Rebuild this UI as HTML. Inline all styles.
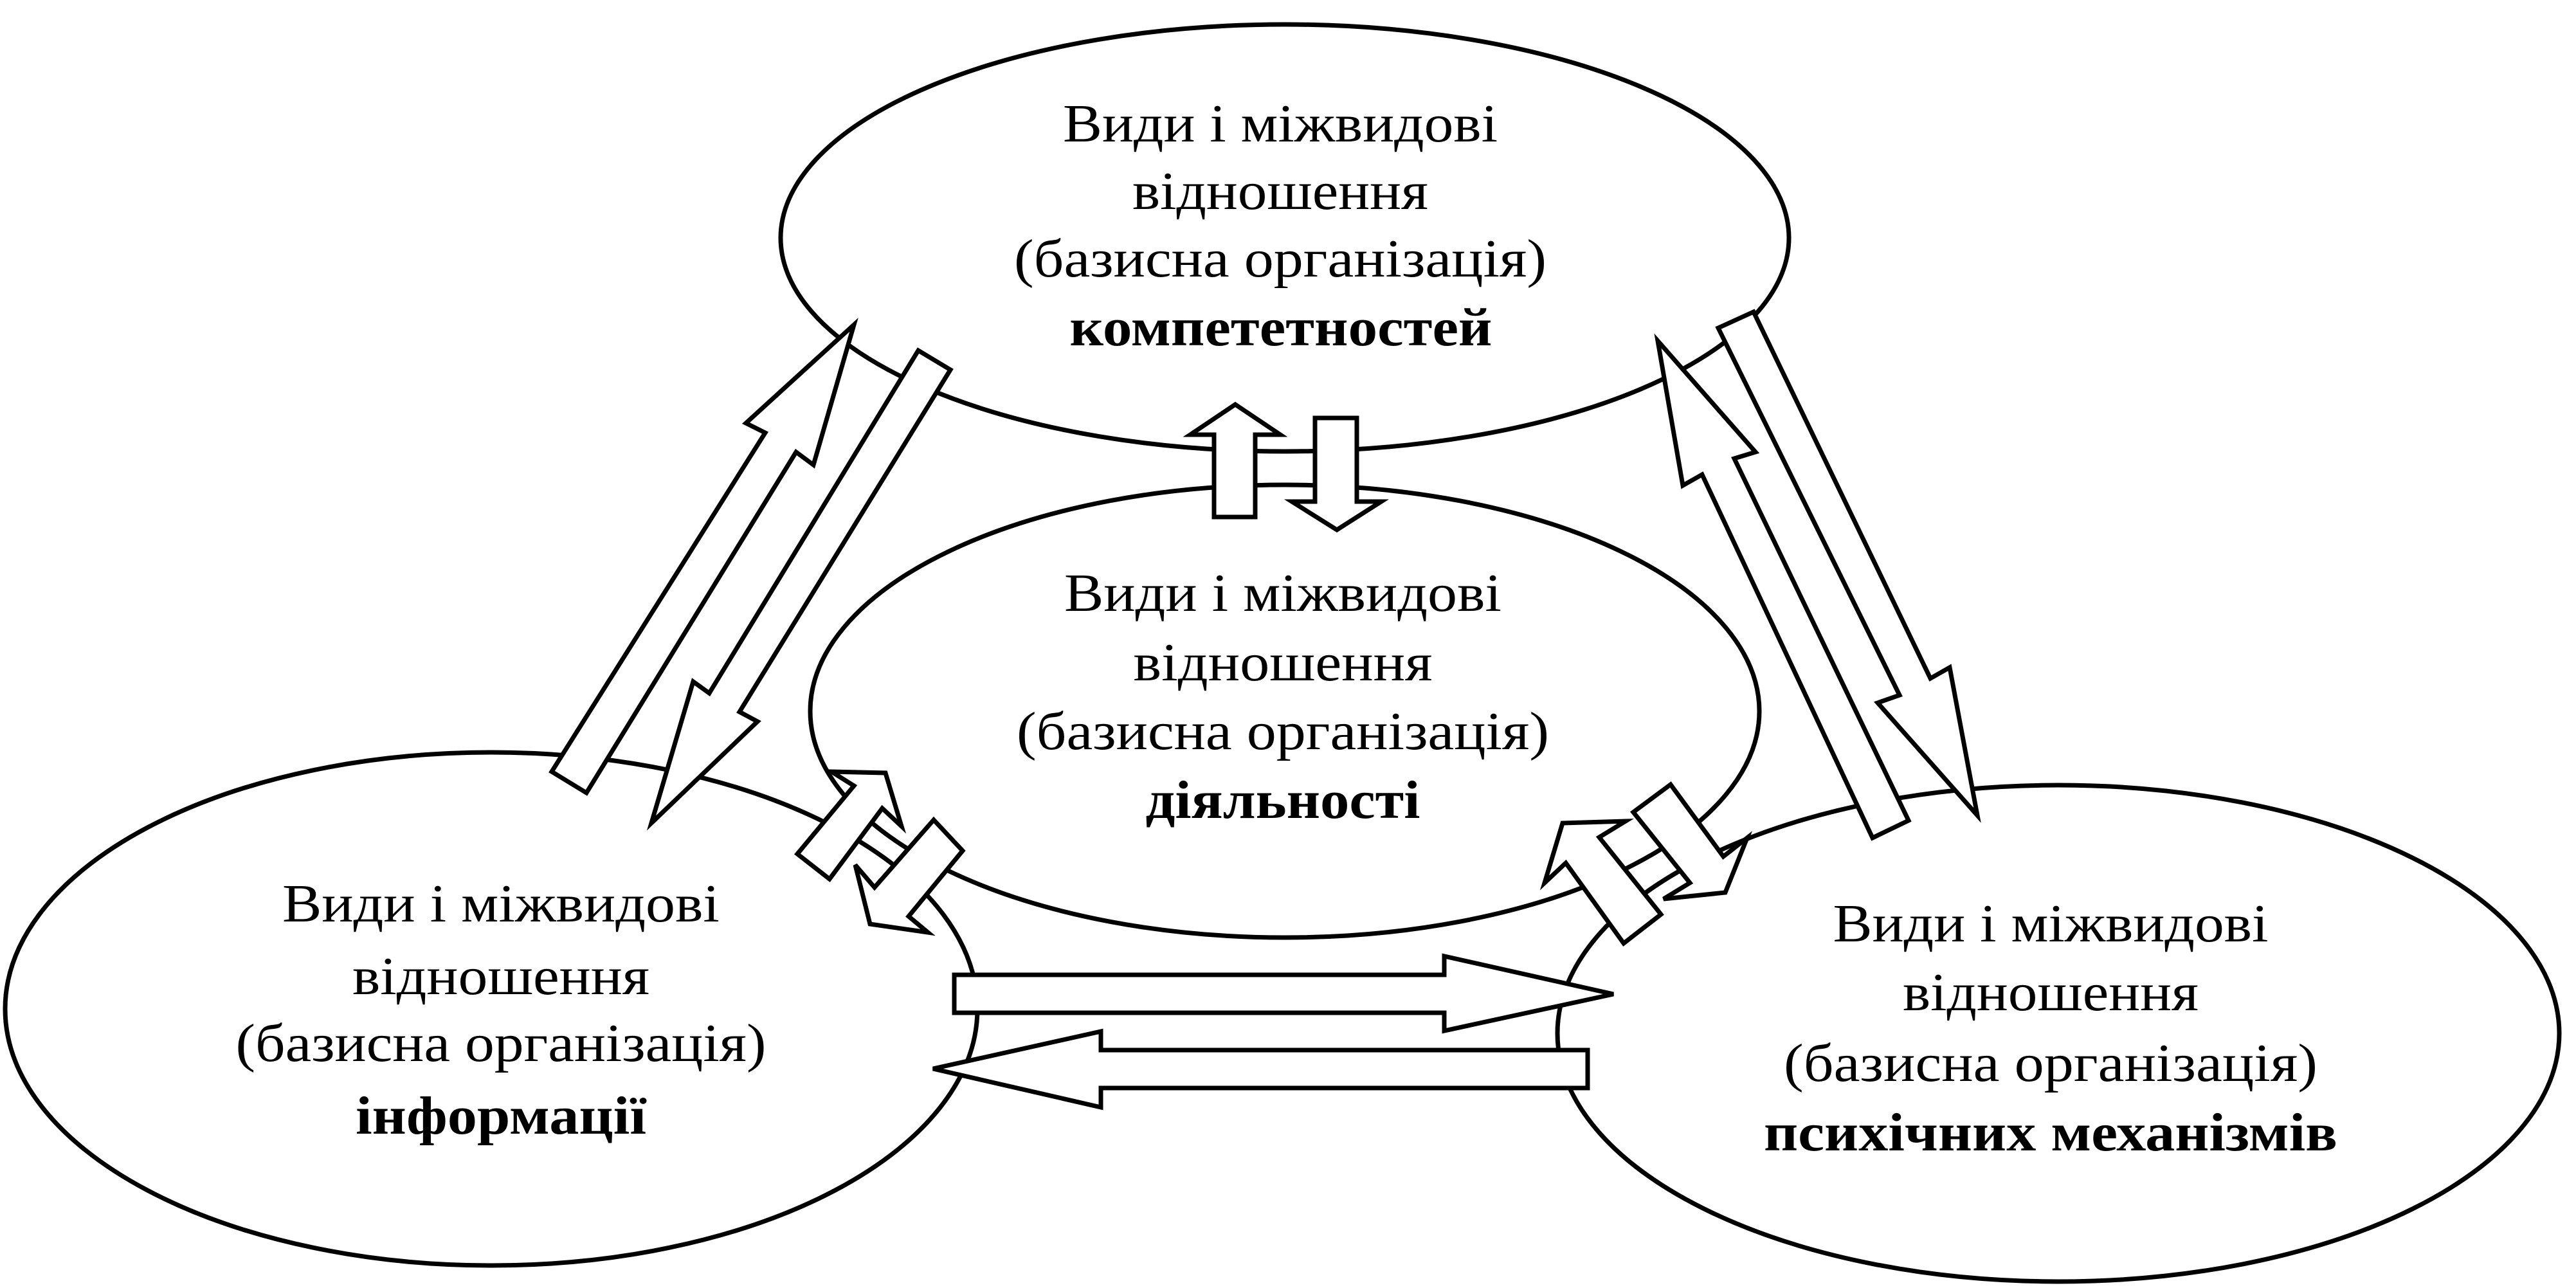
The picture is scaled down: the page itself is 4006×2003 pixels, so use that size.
<!DOCTYPE html>
<html><head><meta charset="utf-8"><style>
html,body{margin:0;padding:0;background:#fff;}
svg{display:block;}
text{font-family:"Liberation Serif","Times New Roman",serif;font-size:84px;fill:#000;text-anchor:middle;}
.b{font-weight:bold;}
</style></head><body>
<svg width="4006" height="2003" viewBox="0 0 4006 2003" xmlns="http://www.w3.org/2000/svg">
<g fill="none" stroke="#000" stroke-width="7">
<ellipse cx="1998" cy="370" rx="784" ry="332"/>
<ellipse cx="1998" cy="1106" rx="738" ry="352"/>
<ellipse cx="764" cy="1569" rx="756" ry="399"/>
<ellipse cx="3201" cy="1607" rx="779" ry="386"/>
</g>
<g fill="#fff" stroke="#000" stroke-width="7" stroke-linejoin="miter">
<polygon points="858,1200 1190,673 1160,658 1328,505 1265,723 1238,703 912,1233"/>
<polygon points="1428,545 1478,575 1150,1107 1178,1122 1013,1280 1078,1060 1103,1078"/>
<polygon points="2578,530 2730,703 2697,713 2968,1276 2912,1303 2647,738 2617,755"/>
<polygon points="2672,510 2727,485 3002,1055 3032,1038 3075,1268 2920,1093 2954,1081"/>
<polygon points="1921,629 1991,676 1952,676 1952,804 1888,804 1888,676 1851,676"/>
<polygon points="2045,650 2110,650 2110,780 2148,780 2079,824 2009,780 2045,780"/>
<polygon points="1240,1328 1328,1222 1293,1200 1377,1202 1402,1285 1372,1257 1290,1367"/>
<polygon points="1452,1275 1497,1323 1413,1425 1443,1450 1353,1437 1330,1345 1360,1380"/>
<polygon points="2525,1467 2435,1342 2402,1373 2430,1280 2528,1277 2487,1302 2583,1422"/>
<polygon points="2540,1263 2598,1220 2680,1332 2717,1303 2683,1388 2587,1398 2628,1373"/>
<polygon points="1484,1516 2246,1516 2246,1487 2509,1546 2246,1603 2246,1575 1484,1575"/>
<polygon points="2469,1633 1712,1633 1712,1604 1451,1662 1712,1722 1712,1692 2469,1692"/>
</g>
<g>
<text x="1991" y="220" textLength="676" lengthAdjust="spacingAndGlyphs">Види і міжвидові</text>
<text x="1991" y="325" textLength="460" lengthAdjust="spacingAndGlyphs">відношення</text>
<text x="1991" y="430" textLength="828" lengthAdjust="spacingAndGlyphs">(базисна організація)</text>
<text class="b" x="1992" y="537" textLength="657" lengthAdjust="spacingAndGlyphs">компететностей</text>

<text x="1995" y="950" textLength="680" lengthAdjust="spacingAndGlyphs">Види і міжвидові</text>
<text x="1995" y="1058" textLength="465" lengthAdjust="spacingAndGlyphs">відношення</text>
<text x="1995" y="1165" textLength="828" lengthAdjust="spacingAndGlyphs">(базисна організація)</text>
<text class="b" x="1995" y="1272" textLength="427" lengthAdjust="spacingAndGlyphs">діяльності</text>

<text x="779" y="1433" textLength="680" lengthAdjust="spacingAndGlyphs">Види і міжвидові</text>
<text x="779" y="1546" textLength="462" lengthAdjust="spacingAndGlyphs">відношення</text>
<text x="779" y="1650" textLength="825" lengthAdjust="spacingAndGlyphs">(базисна організація)</text>
<text class="b" x="779" y="1763" textLength="452" lengthAdjust="spacingAndGlyphs">інформації</text>

<text x="3189" y="1464" textLength="677" lengthAdjust="spacingAndGlyphs">Види і міжвидові</text>
<text x="3189" y="1571" textLength="460" lengthAdjust="spacingAndGlyphs">відношення</text>
<text x="3189" y="1681" textLength="830" lengthAdjust="spacingAndGlyphs">(базисна організація)</text>
<text class="b" x="3189" y="1789" textLength="892" lengthAdjust="spacingAndGlyphs">психічних механізмів</text>
</g>
</svg>
</body></html>
